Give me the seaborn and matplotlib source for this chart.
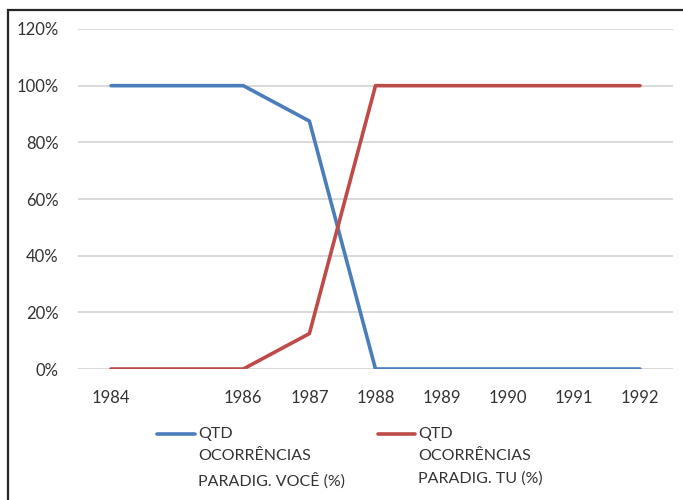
import matplotlib
matplotlib.use("Agg")
import matplotlib.pyplot as plt
from matplotlib.lines import Line2D
from matplotlib.patches import Rectangle
import pandas as pd
import seaborn as sns

years = [1984, 1986, 1987, 1988, 1989, 1990, 1991, 1992]
voce_pct = [100, 100, 87.5, 0, 0, 0, 0, 0]
tu_pct = [0, 0, 12.5, 100, 100, 100, 100, 100]
series_labels = ["QTD\nOCORRÊNCIAS\nPARADIG. VOCÊ (%)",
                 "QTD\nOCORRÊNCIAS\nPARADIG. TU (%)"]
series_colors = ["#4A7EBB", "#BE4B48"]
y_ticks = [0, 20, 40, 60, 80, 100, 120]

df = pd.DataFrame({
    "ano": years * 2,
    "pct": voce_pct + tu_pct,
    "serie": [series_labels[0]] * len(years) + [series_labels[1]] * len(years),
})

sns.set_style("white")
plt.rcParams["font.family"] = ["Lato", "DejaVu Sans"]

W, H = 683, 500
fig = plt.figure(figsize=(W / 100, H / 100), dpi=100)
ax = fig.add_axes([78 / W, 1 - 369 / H, (673 - 78) / W, (369 - 29) / H])

sns.lineplot(data=df, x="ano", y="pct", hue="serie", palette=series_colors,
             linewidth=2.6, ax=ax, legend=False)

ax.set_xlim(1983.5, 1992.5)
ax.set_ylim(0, 120)
ax.set_yticks(y_ticks)
ax.set_yticklabels([f"{v}%" for v in y_ticks])
ax.set_xticks(years)
ax.set_xticklabels([str(y) for y in years])
ax.grid(axis="y", color="#D9D9D9", linewidth=1.4)
ax.set_axisbelow(True)
for s in ["top", "right", "left", "bottom"]:
    ax.spines[s].set_visible(False)
ax.tick_params(axis="both", length=0, labelsize=12, colors="#333333")
ax.tick_params(axis="y", pad=14)
ax.tick_params(axis="x", pad=15)
ax.set_xlabel("")
ax.set_ylabel("")

# legend drawn under the plot: short line + three-line label per series
for (x0, x1, xt), lab, col in zip([(157, 195, 198), (378, 415, 418)],
                                  series_labels, series_colors):
    fig.add_artist(Line2D([x0 / W, x1 / W], [1 - 434 / H, 1 - 434 / H],
                          color=col, linewidth=2.6, transform=fig.transFigure))
    fig.text(xt / W, 1 - 427 / H, lab, ha="left", va="top", fontsize=11.5,
             color="#333333", linespacing=1.72)

# outer frame
fig.add_artist(Rectangle((8 / W, -0.1), 1.2, 1 - 10 / H + 0.1,
                         transform=fig.transFigure, fill=False,
                         edgecolor="#262626", linewidth=1.6))

fig.savefig("out.png", dpi=100)
